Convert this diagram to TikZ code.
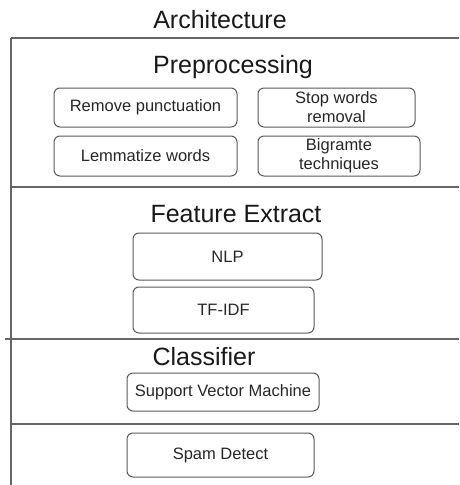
\documentclass[tikz,border=0pt]{standalone}
\usepackage{fontspec}
\setmainfont{Liberation Sans}
\begin{document}
\begin{tikzpicture}[x=1pt,y=-1pt,
  procbox/.style={draw=black!65,line width=1pt,rounded corners=6pt,align=center,inner sep=0pt,
    font=\fontsize{16.5}{19}\selectfont,text=black!85},
  header/.style={anchor=base,font=\fontsize{25}{29}\selectfont,text=black!90},
  frame/.style={draw=black!60,line width=1.2pt}]
\useasboundingbox (0,0) rectangle (459,485);
% outer frame and section lines
\draw[frame] (11,38) -- (459,38);
\draw[frame] (11,38) -- (11,485);
\draw[frame] (11,187) -- (459,187);
\draw[frame] (5,339) -- (459,339);
\draw[frame] (11,424) -- (459,424);
% titles
\node[header] (arch) at (220,28) {Architecture};
\node[header] (prep) at (233,73) {Preprocessing};
\node[header] (feat) at (236,222) {Feature Extract};
\node[header] (clf) at (204,365) {Classifier};
% preprocessing steps
\node[procbox,minimum width=183pt,minimum height=39pt] (punct) at (145.5,107.5) {Remove punctuation};
\node[procbox,minimum width=157pt,minimum height=39pt] (stop) at (336.5,107.5) {Stop words\\removal};
\node[procbox,minimum width=183pt,minimum height=40pt] (lemma) at (145.5,156) {Lemmatize words};
\node[procbox,minimum width=162pt,minimum height=40pt] (bigram) at (339,156) {Bigramte\\techniques};
% feature extraction
\node[procbox,minimum width=189pt,minimum height=47pt] (nlp) at (227.5,256.5) {NLP};
\node[procbox,minimum width=181pt,minimum height=46pt] (tfidf) at (223.5,310) {TF-IDF};
% classifier and output
\node[procbox,minimum width=192pt,minimum height=38pt] (svm) at (223,392) {Support Vector Machine};
\node[procbox,minimum width=187pt,minimum height=44pt] (spam) at (220.5,455) {Spam Detect};
\end{tikzpicture}
\end{document}
